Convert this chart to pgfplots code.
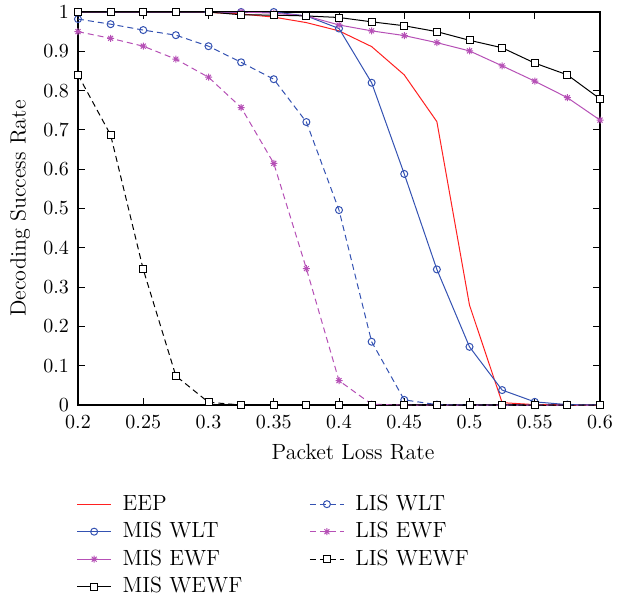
\documentclass[border=0pt]{standalone}
\usepackage{pgfplots}
\pgfplotsset{compat=1.18}
\definecolor{cred}{RGB}{255,32,32}
\definecolor{cblue}{RGB}{52,82,178}
\definecolor{cmag}{RGB}{182,80,182}
\pgfdeclareplotmark{mast}{%
  \pgfpathmoveto{\pgfqpoint{-\pgfplotmarksize}{0pt}}\pgfpathlineto{\pgfqpoint{\pgfplotmarksize}{0pt}}%
  \pgfpathmoveto{\pgfqpoint{0pt}{-\pgfplotmarksize}}\pgfpathlineto{\pgfqpoint{0pt}{\pgfplotmarksize}}%
  \pgfpathmoveto{\pgfqpoint{-0.707\pgfplotmarksize}{-0.707\pgfplotmarksize}}\pgfpathlineto{\pgfqpoint{0.707\pgfplotmarksize}{0.707\pgfplotmarksize}}%
  \pgfpathmoveto{\pgfqpoint{-0.707\pgfplotmarksize}{0.707\pgfplotmarksize}}\pgfpathlineto{\pgfqpoint{0.707\pgfplotmarksize}{-0.707\pgfplotmarksize}}%
  \pgfusepathqstroke}
\pgfplotstableread{
x eep miswlt misewf miswewf liswlt lisewf liswewf
0.2   1     1     1     1     0.982 0.950 0.840
0.225 1     1     1     1     0.969 0.933 0.687
0.25  1     1     1     1     0.954 0.913 0.345
0.275 1     1     1     1     0.941 0.880 0.074
0.3   0.999 1     1     1     0.913 0.834 0.007
0.325 0.995 1     1     0.993 0.872 0.757 0
0.35  0.987 1     0.997 0.992 0.829 0.615 0
0.375 0.973 0.990 0.990 0.990 0.720 0.347 0
0.4   0.952 0.958 0.967 0.986 0.496 0.062 0
0.425 0.912 0.820 0.952 0.975 0.161 0.002 0
0.45  0.840 0.588 0.940 0.965 0.013 0     0
0.475 0.721 0.345 0.922 0.950 0.001 0     0
0.5   0.254 0.148 0.901 0.928 0     0     0
0.525 0.006 0.038 0.863 0.909 0     0     0
0.55  0.001 0.008 0.824 0.870 0     0     0
0.575 0     0.001 0.782 0.840 0     0     0
0.6   0     0     0.725 0.779 0     0     0
}\data
\begin{document}
\begin{tikzpicture}
\useasboundingbox (-39pt,-95pt) rectangle (274pt,202.5pt);
\begin{axis}[
  at={(0,0)}, anchor=south west,
  scale only axis, width=261pt, height=196.5pt,
  xmin=0.2, xmax=0.6, ymin=0, ymax=1,
  xtick={0.2,0.25,0.3,0.35,0.4,0.45,0.5,0.55,0.6},
  ytick={0,0.1,0.2,0.3,0.4,0.5,0.6,0.7,0.8,0.9,1},
  tick align=inside, major tick length=3.5pt,
  axis line style={line width=0.6pt},
  every tick/.style={black, line width=0.5pt},
  tick label style={font=\fontsize{10}{12}\selectfont},
  xticklabel style={yshift=-2pt},
  yticklabel style={xshift=-1pt},
  label style={font=\fontsize{11}{13}\selectfont},
  xlabel={Packet Loss Rate},
  ylabel={Decoding Success Rate},
  xlabel style={at={(axis description cs:0.527,-0.12)}, anchor=center},
  ylabel style={at={(axis description cs:-0.111,0.5)}, anchor=center},
  legend columns=2,
  legend cell align=left,
  legend style={at={(axis description cs:-0.015,-0.21)}, anchor=north west,
    draw=none, fill=none, font=\fontsize{11}{13}\selectfont,
    nodes={inner sep=1.5pt}, row sep=1.5pt,
    /tikz/every odd column/.append style={column sep=4pt},
    /tikz/every even column/.append style={column sep=32pt}},
  every axis plot/.append style={line width=0.5pt},
  mark size=1.75pt,
]
\addplot[cred, no markers] table[x=x,y=eep]{\data};
\addlegendentry{EEP}
\addplot[cblue, dash pattern=on 3pt off 2pt, mark=o, mark options={solid}] table[x=x,y=liswlt]{\data};
\addlegendentry{LIS WLT}
\addplot[cblue, mark=o, mark options={solid}] table[x=x,y=miswlt]{\data};
\addlegendentry{MIS WLT}
\addplot[cmag, dash pattern=on 3pt off 2pt, mark=mast, mark options={solid}] table[x=x,y=lisewf]{\data};
\addlegendentry{LIS EWF}
\addplot[cmag, mark=mast, mark options={solid}] table[x=x,y=misewf]{\data};
\addlegendentry{MIS EWF}
\addplot[black, dash pattern=on 3pt off 2pt, mark=square*, mark options={solid, fill=white}] table[x=x,y=liswewf]{\data};
\addlegendentry{LIS WEWF}
\addplot[black, mark=square*, mark options={solid, fill=white}] table[x=x,y=miswewf]{\data};
\addlegendentry{MIS WEWF}
\end{axis}
\end{tikzpicture}
\end{document}
